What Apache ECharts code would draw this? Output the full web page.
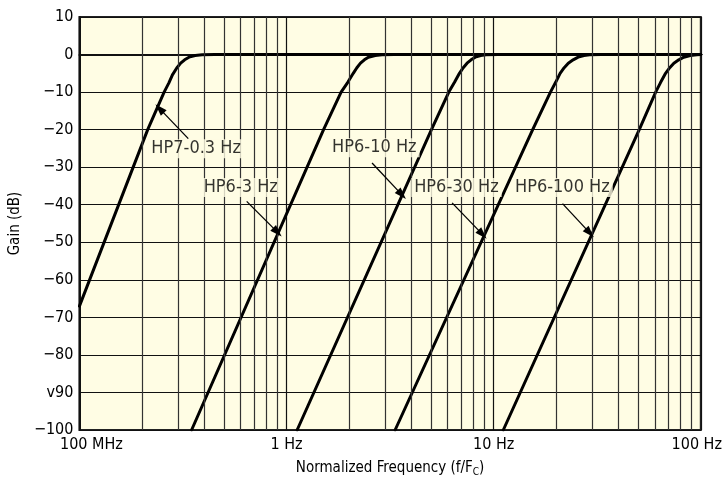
<!DOCTYPE html>
<html>
<head>
<meta charset="utf-8">
<script src="https://cdn.jsdelivr.net/npm/echarts@6/dist/echarts.min.js"></script>
<style>html,body{margin:0;padding:0;background:#fff}#c{width:725px;height:482px}</style>
</head>
<body>
<div id="c"></div>
<script>
// ---- data ----
const xTickValues = [0.1, 1, 10, 100];
const xTickLabels = ['100 MHz', '1 Hz', '10 Hz', '100 Hz'];
const yTickValues = [10, 0, -10, -20, -30, -40, -50, -60, -70, -80, -90, -100];
const yTickLabels = ['10', '0', '\u221210', '\u221220', '\u221230', '\u221240', '\u221250', '\u221260', '\u221270', '\u221280', 'v90', '\u2212100'];
const minorGridX = [0.2,0.3,0.4,0.5,0.6,0.7,0.8,0.9, 2,3,4,5,6,7,8,9, 20,30,40,50,60,70,80,90];

const hp7_03 = [[0.1,-67],[0.2136,-20],[0.2564,-10],[0.2700,-7.6],[0.2812,-5.4],[0.2950,-3.6],[0.3082,-2.3],[0.322,-1.4],[0.338,-0.7],[0.362,-0.25],[0.3913,-0.08],[0.45,0],[100,0]];
const hp6_3 = [[0.348,-100],[1.509,-20],[1.834,-10],[1.975,-7.4],[2.099,-5],[2.185,-3.5],[2.275,-2.3],[2.375,-1.4],[2.484,-0.7],[2.68,-0.25],[2.89,-0.08],[3.3,0],[100,0]];
const hp6_10 = [[1.125,-100],[5.007,-20],[6.073,-10],[6.47,-7.4],[6.834,-5],[7.13,-3.5],[7.438,-2.3],[7.78,-1.4],[8.151,-0.7],[8.65,-0.25],[9.17,-0.08],[10.5,0],[100,0]];
const hp6_30 = [[3.343,-100],[15.43,-20],[18.8,-10],[19.92,-7.4],[20.93,-5],[21.9,-3.5],[22.92,-2.3],[24.2,-1.4],[25.59,-0.7],[27.3,-0.25],[29.1,-0.08],[33,0],[100,0]];
const hp6_100 = [[11.13,-100],[50.45,-20],[60.55,-10],[64.0,-7.4],[67.6,-5],[70.8,-3.5],[74.13,-2.3],[78.3,-1.4],[82.77,-0.7],[89,-0.25],[95.8,-0.08],[100,0]];

// annotations: label centre [x, y], arrow start and tip (data coordinates)
const annLabels = ['HP7-0.3 Hz', 'HP6-3 Hz', 'HP6-10 Hz', 'HP6-30 Hz', 'HP6-100 Hz'];
const annLabelPos = [[0.366,-25.1],[0.601,-35.4],[2.653,-24.8],[6.61,-35.4],[21.46,-35.4]];
const annArrowFrom = [[0.3354,-22.4],[0.642,-39.1],[2.587,-28.9],[6.30,-39.5],[21.5,-39.7]];
const annArrowTo = [[0.2438,-14.4],[0.903,-47.3],[3.60,-37.3],[8.83,-47.9],[29.1,-47.5]];

// ---- chart ----
const FONT = "'Liberation Sans Narrow','DejaVu Sans Condensed','Roboto Condensed','Noto Sans',sans-serif";
const CREAM = '#fffde4';
const chart = echarts.init(document.getElementById('c'), null, {renderer: 'canvas'});

function curve(name, data) {
  return {
    name, type: 'line', data, showSymbol: false, symbol: 'none',
    smooth: false, z: 3, clip: true,
    lineStyle: {color: '#000', width: 3, join: 'round', cap: 'round'}
  };
}

const option = {
  backgroundColor: '#fff',
  animation: false,
  grid: {left: 76, right: 21, top: 17, bottom: 51, show: true, backgroundColor: CREAM, borderColor: '#222', borderWidth: 2},
  xAxis: {
    type: 'log', logBase: 10, min: 0.1, max: 100,
    name: '{a|Normalized Frequency (f/F}{s|C}{a|)}', nameLocation: 'middle', nameGap: 30,
    nameTextStyle: {rich: {
      a: {fontFamily: FONT, fontSize: 15, color: '#000'},
      s: {fontFamily: FONT, fontSize: 10, color: '#000', padding: [7, 0, 0, 0]}
    }},
    axisLine: {show: true, lineStyle: {color: '#111', width: 2}},
    axisTick: {show: false},
    splitLine: {show: true, lineStyle: {color: '#111', width: 1.2}},
    axisLabel: {
      margin: 7, color: '#000', fontFamily: FONT, fontSize: 16,
      formatter: function (v) {
        const i = xTickValues.findIndex(t => Math.abs(Math.log10(t) - Math.log10(v)) < 1e-6);
        if (i < 0) return '';
        if (i === 0) return '{f|' + xTickLabels[i] + '}';
        if (i === xTickValues.length - 1) return '{l|' + xTickLabels[i] + '}';
        return xTickLabels[i];
      },
      rich: {
        f: {fontFamily: FONT, fontSize: 16, color: '#000', padding: [0, 0, 0, 24]},
        l: {fontFamily: FONT, fontSize: 16, color: '#000', padding: [0, 8, 0, 0]}
      }
    }
  },
  yAxis: {
    type: 'value', min: -100, max: 10, interval: 10,
    name: 'Gain (dB)', nameLocation: 'middle', nameGap: 56,
    nameTextStyle: {fontFamily: FONT, fontSize: 15, color: '#000'},
    axisLine: {show: true, lineStyle: {color: '#111', width: 2}},
    axisTick: {show: false},
    splitLine: {show: true, lineStyle: {color: '#111', width: 1.2}},
    axisLabel: {
      margin: 6, color: '#000', fontFamily: FONT, fontSize: 16,
      formatter: function (v) {
        const i = yTickValues.findIndex(t => Math.abs(t - v) < 1e-6);
        return i < 0 ? '' : yTickLabels[i];
      }
    }
  },
  series: [
    {
      name: 'minor-grid', type: 'line', data: [], z: 1, silent: true,
      markLine: {
        silent: true, symbol: ['none', 'none'], animation: false,
        label: {show: false},
        lineStyle: {color: '#333', width: 1.2, type: 'solid'},
        data: minorGridX.map(v => ({xAxis: v}))
      }
    },
    curve('HP7-0.3 Hz', hp7_03),
    curve('HP6-3 Hz', hp6_3),
    curve('HP6-10 Hz', hp6_10),
    curve('HP6-30 Hz', hp6_30),
    curve('HP6-100 Hz', hp6_100),
    {
      name: 'annotations', type: 'scatter', z: 5, zlevel: 1, silent: true,
      symbolSize: 0,
      data: annLabels.map((t, i) => ({name: t, value: annLabelPos[i]})),
      label: {
        show: true, position: 'inside', formatter: '{b}',
        fontFamily: FONT, fontSize: 18, color: '#000',
        backgroundColor: CREAM, padding: [1, 3, 0, 3]
      },
      markLine: {
        silent: true, animation: false,
        symbol: ['none', 'triangle'], symbolSize: [8, 12],
        label: {show: false},
        lineStyle: {color: '#000', width: 1.3, type: 'solid'},
        data: annLabels.map((t, i) => [{coord: annArrowFrom[i]}, {coord: annArrowTo[i]}])
      }
    }
  ]
};
chart.setOption(option);
</script>
</body>
</html>
